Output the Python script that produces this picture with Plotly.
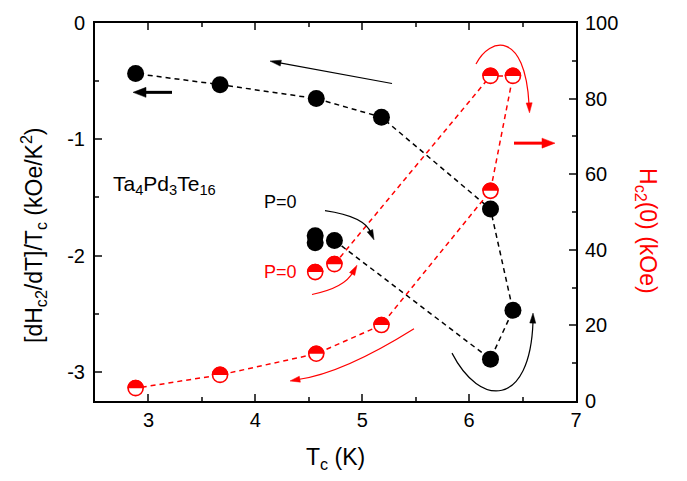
import plotly.graph_objects as go

# ---------------- data ----------------
# black: slope [dHc2/dT]/Tc vs Tc (left axis); first 2 points are extra P=0 points (no line)
tc_slope = [4.56, 4.56, 4.74, 6.20, 6.41, 6.20, 5.18, 4.57, 3.67, 2.88]
slope = [-1.83, -1.89, -1.87, -2.89, -2.47, -1.60, -0.81, -0.65, -0.53, -0.435]
# red: Hc2(0) vs Tc (right axis); first point is extra P=0 point (no line)
tc_hc2 = [4.56, 4.74, 6.20, 6.41, 6.20, 5.18, 4.57, 3.67, 2.88]
hc2 = [34.1, 36.2, 86.0, 86.0, 55.6, 20.1, 12.5, 6.9, 3.4]

x_ticks = [3, 4, 5, 6, 7]
y_ticks = [0, -1, -2, -3]
y_ticktext = ["0", "-1", "-2", "-3"]
y2_ticks = [0, 20, 40, 60, 80, 100]

RED = "#ff0000"
FONT = "Liberation Sans, Arial, sans-serif"

W, H = 687, 481
L, R, T, B = 95, 576, 14, 401


def px(xp, yp):
    return (xp - L) / (R - L), (B - yp) / (B - T)


def path_paper(cmds):
    out = []
    for c in cmds:
        if isinstance(c, str):
            out.append(c)
        else:
            a, b = px(*c)
            out.append(f"{a:.5f},{b:.5f}")
    return " ".join(out)


fig = go.Figure()

# black dashed line
fig.add_trace(go.Scatter(x=tc_slope[2:], y=slope[2:], mode="lines",
                         line=dict(color="black", width=1.5, dash="5px,4px"),
                         showlegend=False, hoverinfo="skip"))
# red dashed line
fig.add_trace(go.Scatter(x=tc_hc2[1:], y=hc2[1:], mode="lines", yaxis="y2",
                         line=dict(color=RED, width=1.5, dash="5px,4px"),
                         showlegend=False, hoverinfo="skip"))
# black markers
fig.add_trace(go.Scatter(x=tc_slope, y=slope, mode="markers",
                         marker=dict(color="black", size=17, line=dict(width=0)),
                         showlegend=False))
# red half-filled markers (open circle + top half shape)
fig.add_trace(go.Scatter(x=tc_hc2, y=hc2, mode="markers", yaxis="y2",
                         marker=dict(color="white", size=15, line=dict(color=RED, width=1.6)),
                         showlegend=False))

shapes = []
r = 8.3
k = 0.5523
half = (f"M {-r},0 C {-r},{k*r} {-k*r},{r} 0,{r} "
        f"C {k*r},{r} {r},{k*r} {r},0 Z")
for xv, yv in zip(tc_hc2, hc2):
    shapes.append(dict(type="path", xref="x", yref="y2", xsizemode="pixel", ysizemode="pixel",
                       xanchor=xv, yanchor=yv, path=half, fillcolor=RED,
                       line=dict(width=0), layer="above"))


def head(tip, frm, col, length, width):
    """filled triangular arrow head at tip (pixel coords), pointing away from frm"""
    dx, dy = tip[0] - frm[0], tip[1] - frm[1]
    n = (dx * dx + dy * dy) ** 0.5
    ux, uy = dx / n, dy / n
    # pixel-mode paths have y pointing up -> flip
    bx, by = -ux * length, -uy * length
    p1 = (bx + (-uy) * width / 2, by + ux * width / 2)
    p2 = (bx - (-uy) * width / 2, by - ux * width / 2)
    path = f"M 0,0 L {p1[0]:.2f},{-p1[1]:.2f} L {p2[0]:.2f},{-p2[1]:.2f} Z"
    ax_, ay_ = px(*tip)
    shapes.append(dict(type="path", xref="paper", yref="paper", xsizemode="pixel",
                       ysizemode="pixel", xanchor=ax_, yanchor=ay_, path=path,
                       fillcolor=col, line=dict(color=col, width=0.5), layer="above"))


# curved arrows (decorations)
curves = [
    (["M", (476, 56), "C", (490, 28), (525, 22), (529, 97)], RED, (529.5, 106), (528, 60)),
    (["M", (325, 206), "Q", (365, 212), (371, 229)], "black", (374, 236), (366, 218)),
    (["M", (312, 292), "Q", (345, 285), (353, 269)], RED, (357, 262), (348, 278)),
    (["M", (414, 327), "Q", (343, 372.5), (298, 379)], RED, (290, 380.5), (320, 375)),
    (["M", (452, 352), "C", (480, 408), (530, 408), (533, 320)], "black", (533, 311), (532.5, 330)),
]
for cmds, col, tip, frm in curves:
    shapes.append(dict(type="path", xref="paper", yref="paper", path=path_paper(cmds),
                       line=dict(color=col, width=1.2), layer="above"))
    head(tip, frm, col, 10, 6)


# straight arrows
def straight(tip, tail, col, width, hl, hw):
    dx, dy = tip[0] - tail[0], tip[1] - tail[1]
    n = (dx * dx + dy * dy) ** 0.5
    ex, ey = tip[0] - dx / n * (hl - 1), tip[1] - dy / n * (hl - 1)
    a0, b0 = px(*tail)
    a1, b1 = px(ex, ey)
    shapes.append(dict(type="line", xref="paper", yref="paper", x0=a0, y0=b0, x1=a1, y1=b1,
                       line=dict(color=col, width=width), layer="above"))
    head(tip, tail, col, hl, hw)


straight((270, 53), (392, 76), "black", 1.1, 11, 6)
straight((133, 85), (172, 85), "black", 3, 13, 10)
straight((555, 137), (514, 137), RED, 3, 13, 10)

annotations = []


def text(s, xp, yp, col="black", size=20, xanchor="left", angle=0):
    a, b = px(xp, yp)
    annotations.append(dict(x=a, y=b, xref="paper", yref="paper", text=s, showarrow=False,
                            xanchor=xanchor, yanchor="middle", textangle=angle,
                            font=dict(family=FONT, size=size, color=col)))


text("Ta<sub>4</sub>Pd<sub>3</sub>Te<sub>16</sub>", 111, 180, size=21)
text("P=0", 262, 197.5, size=18)
text("P=0", 262, 268.5, col=RED, size=18)
text("[dH<sub>c2</sub>/dT]/T<sub>c</sub> (kOe/K<sup>2</sup>)", 33, 231, size=23,
     xanchor="center", angle=-90)
text("H<sub>c2</sub>(0) (kOe)", 647, 227, col=RED, size=23, xanchor="center", angle=90)
text("T<sub>c</sub> (K)", 335, 460, size=23, xanchor="center")

fig.update_layout(
    width=W, height=H,
    margin=dict(l=L, r=W - R, t=T, b=H - B),
    paper_bgcolor="white", plot_bgcolor="white",
    font=dict(family=FONT, size=20, color="black"),
    shapes=shapes, annotations=annotations,
    xaxis=dict(range=[2.5, 7], tickvals=x_ticks, ticks="inside", ticklen=7, tickwidth=2,
               showline=True, linewidth=2, linecolor="black", mirror="ticks",
               showgrid=False, zeroline=False, ticklabelstandoff=0,
               minor=dict(ticks="inside", ticklen=4, tickwidth=1.5, dtick=0.5, showgrid=False)),
    yaxis=dict(range=[-3.25, 0], tickvals=y_ticks, ticktext=y_ticktext, ticks="inside",
               ticklen=7, tickwidth=2, showline=True, linewidth=2, linecolor="black",
               showgrid=False, zeroline=False, ticklabelstandoff=4,
               minor=dict(ticks="inside", ticklen=4, tickwidth=1.5, dtick=0.5, showgrid=False)),
    yaxis2=dict(range=[0, 100], tickvals=y2_ticks, overlaying="y", side="right", ticks="inside",
                ticklen=7, tickwidth=2, showline=True, linewidth=2, linecolor="black",
                showgrid=False, zeroline=False, ticklabelstandoff=3,
                minor=dict(ticks="inside", ticklen=4, tickwidth=1.5, dtick=10, showgrid=False)),
)

fig.write_html("out.html")
